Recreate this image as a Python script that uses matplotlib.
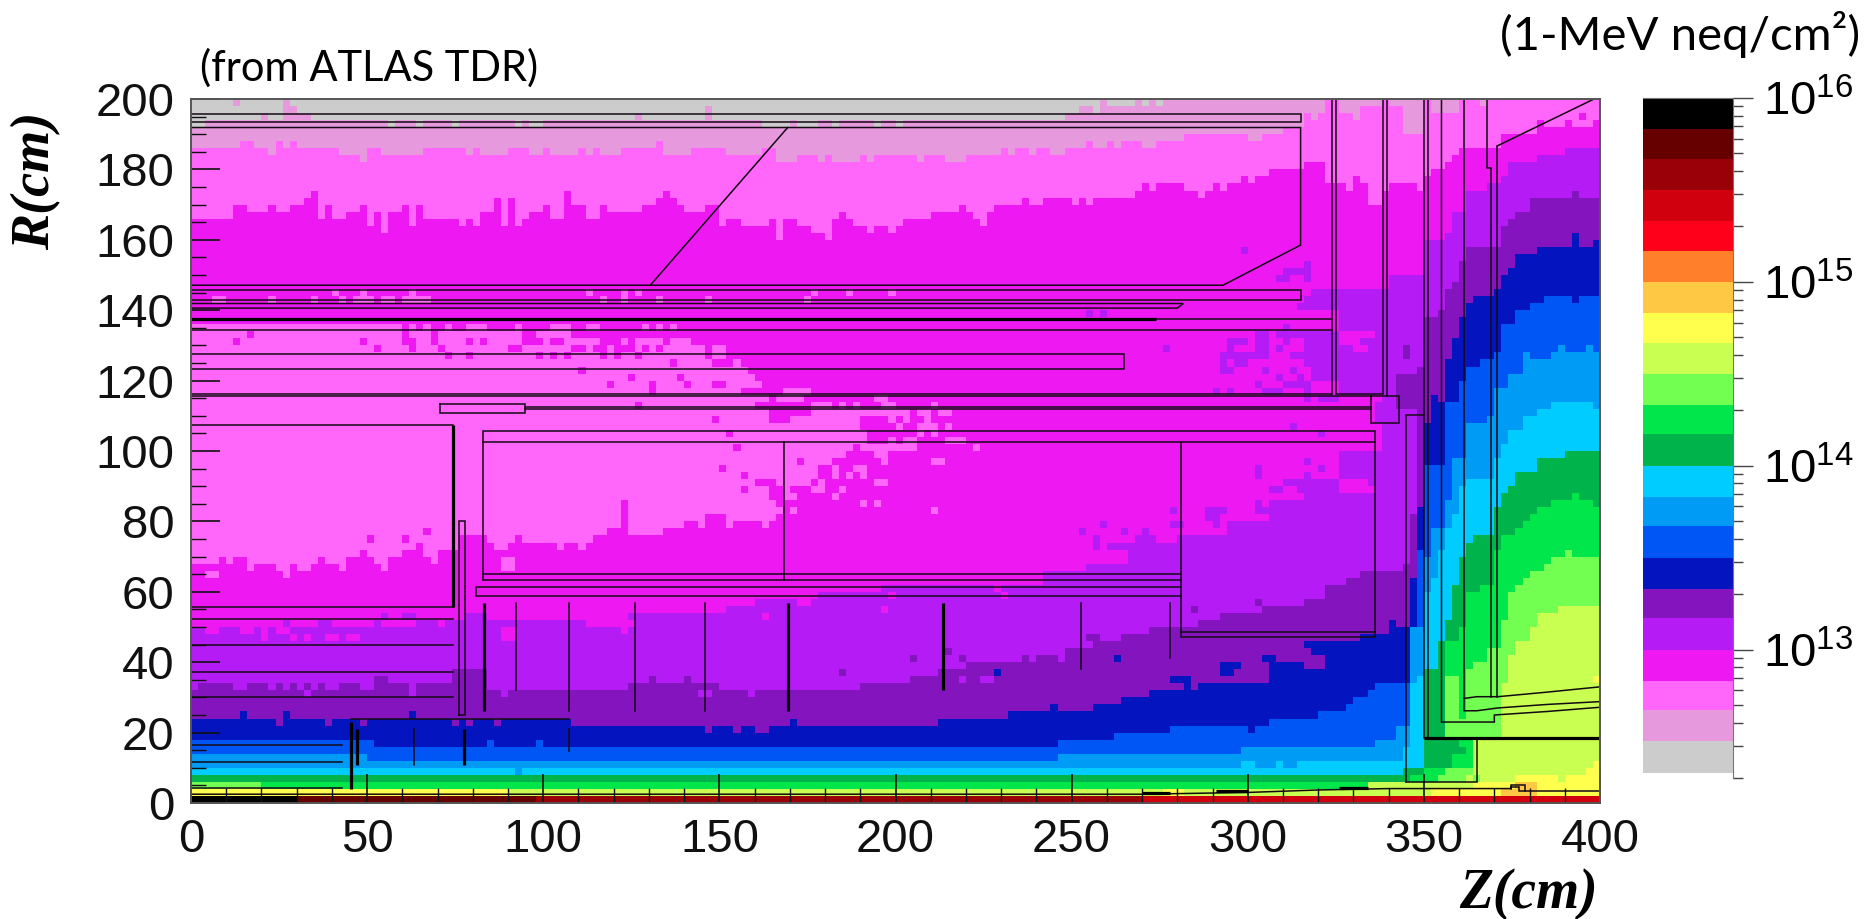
import numpy as np
import matplotlib
matplotlib.use('Agg')
import matplotlib.pyplot as plt
from matplotlib.colors import ListedColormap

plt.rcParams['mathtext.fontset'] = 'custom'
plt.rcParams['mathtext.rm'] = 'Liberation Sans'

# colour of each flux band, lowest first
band_colors = ['#CCCCCC', '#E799DD', '#FF66F9', '#EE19F2', '#B51BF5', '#8415BE', '#0414BE', '#0055F5',
               '#009BF5', '#00CCFF', '#00B34A', '#00E64B', '#73FF52', '#C8FF50', '#FFFF4D', '#FFC844',
               '#FF7F2B', '#FF001A', '#D1000F', '#990008', '#660000', '#000000']
band_exponents = [12.33, 12.5, 12.67, 12.83, 13.0, 13.17, 13.33, 13.5, 13.67, 13.83, 14.0, 14.17,
                  14.33, 14.5, 14.67, 14.83, 15.0, 15.17, 15.33, 15.5, 15.67, 15.83, 16.0]
cbar_major = [1e13, 1e14, 1e15, 1e16]
cbar_labels = ['$10^{13}$', '$10^{14}$', '$10^{15}$', '$10^{16}$']
z_ticks = [0, 50, 100, 150, 200, 250, 300, 350, 400]
r_ticks = [0, 20, 40, 60, 80, 100, 120, 140, 160, 180, 200]

# top of each band read column by column: (z from which it holds, R)
top_lightpink = [(0, 194), (248, 196), (252, 198), (256, 196), (258, 198), (268, 200)]
top_pink = [(0, 186), (14, 188), (18, 186), (22, 184), (24, 188), (26, 186), (28, 188), (30, 186), (42, 184), (48, 182),
            (50, 186), (54, 184), (66, 186), (78, 184), (80, 186), (82, 184), (90, 186), (96, 184), (100, 186), (102, 184),
            (110, 186), (112, 184), (114, 186), (116, 184), (122, 186), (132, 188), (134, 184), (142, 186), (152, 184),
            (162, 186), (166, 182), (172, 184), (178, 182), (180, 184), (182, 182), (190, 184), (192, 182), (194, 184),
            (206, 182), (208, 184), (214, 182), (220, 184), (230, 186), (232, 184), (234, 186), (238, 184), (240, 186),
            (244, 184), (248, 186), (254, 188), (256, 186), (260, 188), (262, 186), (264, 188), (270, 186), (274, 188),
            (282, 190), (300, 188), (304, 190), (310, 192), (316, 196), (318, 194), (320, 196), (322, 200), (326, 196),
            (330, 194), (332, 198), (338, 200), (340, 198), (344, 190), (350, 200), (352, 196), (360, 200)]
top_magenta = [(0, 166), (12, 170), (16, 168), (22, 170), (24, 168), (28, 170), (32, 172), (34, 174), (36, 166), (38, 170),
               (40, 166), (44, 168), (48, 170), (50, 164), (52, 168), (54, 162), (56, 168), (60, 170), (62, 164), (64, 170),
               (66, 166), (76, 164), (78, 166), (80, 164), (82, 168), (86, 172), (88, 164), (90, 172), (92, 164), (94, 166),
               (96, 168), (100, 170), (102, 166), (106, 174), (108, 170), (112, 166), (116, 170), (118, 168), (128, 170),
               (132, 172), (134, 174), (136, 172), (138, 170), (140, 168), (146, 170), (150, 164), (152, 166), (156, 164),
               (164, 166), (166, 160), (168, 166), (172, 164), (176, 162), (180, 160), (182, 166), (184, 168), (186, 166),
               (188, 164), (192, 162), (194, 164), (198, 162), (200, 164), (202, 166), (210, 168), (218, 170), (220, 168),
               (222, 166), (224, 164), (226, 168), (228, 170), (236, 172), (238, 170), (242, 172), (250, 170), (252, 172),
               (254, 170), (256, 172), (268, 174), (270, 176), (272, 174), (274, 176), (282, 174), (286, 172), (288, 174),
               (290, 176), (292, 174), (294, 176), (298, 178), (300, 176), (302, 178), (306, 180), (315, 178), (316, 182),
               (322, 176), (328, 174), (330, 178), (332, 176), (334, 170), (338, 174), (340, 176), (348, 174), (350, 178),
               (352, 180), (355, 182), (358, 184), (360, 186), (371, 190), (381, 194), (384, 192), (390, 194), (392, 192),
               (394, 196), (396, 194)]
top_purple = [(0, 50), (64, 52), (78, 54), (84, 52), (112, 50), (124, 54), (152, 56), (160, 58), (177, 60), (196, 62), (242, 66),
              (254, 68), (266, 72), (268, 74), (280, 76), (294, 80), (306, 86), (316, 94), (325, 146), (339, 150), (350, 160),
              (355, 162), (358, 168), (362, 174), (368, 176), (372, 178), (374, 182), (382, 184), (390, 186)]
top_darkpurple = [(0, 34), (74, 38), (84, 32), (124, 34), (150, 32), (190, 34), (204, 36), (212, 38), (220, 40), (248, 44), (258, 46),
                  (264, 48), (272, 50), (286, 52), (292, 54), (304, 56), (316, 58), (322, 62), (328, 64), (332, 66), (343, 68),
                  (346, 82), (348, 124), (350, 138), (354, 140), (356, 146), (358, 148), (360, 154), (362, 158), (371, 164),
                  (374, 166), (376, 168), (380, 172), (392, 174), (394, 172)]
top_darkblue = [(0, 24), (108, 22), (212, 24), (232, 26), (244, 28), (246, 26), (256, 28), (264, 30), (272, 32), (286, 34), (306, 40),
                (316, 46), (332, 48), (344, 50), (346, 64), (348, 84), (350, 108), (352, 116), (354, 114), (356, 126), (358, 132),
                (360, 138), (362, 142), (364, 144), (370, 146), (372, 150), (374, 152), (376, 156), (382, 158), (392, 162),
                (394, 158), (398, 160)]
top_blue = [(0, 18), (52, 16), (246, 18), (262, 20), (277, 22), (306, 24), (316, 24), (320, 26), (328, 28), (330, 30), (334, 32), (336, 34),
            (346, 50), (348, 72), (350, 96), (356, 114), (360, 120), (362, 124), (366, 126), (370, 128), (372, 136), (376, 140),
            (380, 142), (384, 144), (392, 142), (394, 144)]
top_lightblue = [(0, 14), (50, 12), (246, 14), (298, 16), (336, 18), (342, 22), (346, 50), (350, 70), (352, 78), (356, 86), (358, 98),
                 (362, 108), (368, 110), (370, 118), (374, 122), (378, 128), (380, 126), (386, 128), (388, 130), (390, 128),
                 (396, 130), (398, 128)]
top_cyan = [(0, 10), (298, 12), (302, 10), (308, 12), (310, 10), (314, 12), (344, 16), (345, 34), (348, 36), (350, 60), (352, 64),
            (354, 72), (356, 78), (358, 82), (360, 90), (362, 92), (370, 98), (372, 102), (374, 106), (378, 110), (382, 112),
            (386, 114), (398, 112)]
top_darkgreen = [(0, 8), (344, 10), (350, 38), (354, 46), (356, 52), (358, 62), (360, 70), (362, 74), (364, 76), (370, 84), (372, 88),
                 (374, 90), (376, 94), (381, 98), (390, 100)]
top_green = [(0, 6), (346, 8), (354, 12), (356, 46), (360, 50), (362, 60), (366, 62), (370, 72), (372, 76), (376, 78), (378, 80),
             (380, 82), (382, 84), (386, 86), (392, 88), (394, 86), (398, 84)]
top_lightgreen = [(0, 6), (20, 4), (334, 6), (354, 8), (356, 36), (360, 24), (362, 38), (364, 40), (368, 44), (371, 52), (374, 60),
                  (376, 62), (378, 64), (380, 66), (384, 68), (386, 70), (390, 72), (392, 70)]
top_yellowgreen = [(0, 4), (334, 6), (365, 18), (372, 34), (374, 42), (376, 46), (380, 50), (382, 54), (388, 56)]
top_yellow = [(0, 4), (90, 2), (352, 4), (364, 6), (376, 8), (388, 6), (390, 8), (396, 10), (398, 12)]
top_lightorange = [(0, 2), (372, 4), (376, 6), (382, 2)]
top_orange = [(0, 2)]
top_red = [(0, 2)]
top_red2 = [(0, 2)]
top_darkred = [(0, 2), (270, 0)]
top_darkred2 = [(0, 2), (98, 0)]
top_black = [(0, 2), (30, 0)]

# the light pink pocket between R 60 and 136 on the left side
lake_bottom = [(0, 68), (8, 70), (10, 68), (12, 70), (16, 66), (18, 68), (24, 66), (26, 64), (28, 68), (30, 66), (34, 68), (36, 70),
               (38, 68), (42, 66), (44, 70), (48, 72), (50, 70), (52, 68), (54, 66), (56, 70), (60, 72), (64, 74), (66, 68),
               (70, 72), (76, 76), (84, 74), (86, 72), (90, 74), (92, 76), (94, 74), (104, 72), (106, 74), (110, 72), (112, 74),
               (114, 76), (118, 78), (122, 86), (124, 76), (134, 78), (140, 80), (144, 78), (146, 82), (152, 78), (154, 80),
               (162, 78), (164, 200)]
lake_top = [(0, 136), (60, 134), (108, 132), (142, 130), (152, 126), (158, 122), (164, 0)]

# single cells and short runs off the main bands: (R, z from, z to)
gray_runs = [(192, 0, 4), (192, 56, 58), (192, 64, 66), (192, 74, 76), (192, 92, 94), (192, 96, 100), (192, 162, 170), (192, 172, 178),
             (192, 182, 184), (192, 194, 196), (192, 200, 202), (198, 270, 272), (198, 274, 276)]
lightpink_runs = [(198, 12, 14), (198, 26, 28), (196, 26, 30), (194, 26, 34), (194, 20, 22), (194, 126, 128), (194, 146, 148),
                  (196, 146, 148), (198, 258, 260), (198, 366, 368), (192, 4, 56), (192, 58, 64), (192, 66, 74), (192, 76, 92),
                  (192, 94, 96), (192, 100, 162), (192, 170, 172)]
pink_runs = [(144, 40, 42), (144, 48, 50), (144, 62, 64), (144, 112, 114), (144, 122, 124), (144, 126, 128), (142, 6, 10), (142, 22, 24),
             (142, 34, 36), (142, 42, 44), (142, 46, 52), (142, 54, 58), (142, 60, 68), (142, 116, 118), (142, 122, 124),
             (142, 132, 134), (142, 146, 148), (144, 176, 178), (144, 186, 188), (144, 198, 200), (142, 174, 176),
             (134, 62, 64), (134, 66, 68), (134, 72, 74), (134, 78, 84), (134, 92, 94), (134, 102, 108), (134, 112, 116), (134, 128, 130),
             (134, 132, 134), (134, 136, 138),
             (116, 168, 176), (114, 166, 174), (114, 194, 198), (112, 176, 182), (112, 184, 186), (112, 188, 190), (112, 196, 200),
             (112, 210, 212), (110, 176, 204), (110, 206, 210), (110, 212, 216), (108, 170, 190), (108, 198, 200), (108, 202, 204),
             (108, 208, 210), (106, 164, 190), (106, 200, 202), (106, 206, 212), (106, 214, 216), (104, 164, 192), (104, 206, 208),
             (104, 210, 212), (102, 164, 192), (102, 198, 200), (102, 202, 206), (102, 214, 220), (100, 164, 188), (100, 190, 206),
             (100, 222, 224), (98, 164, 186), (98, 194, 198), (96, 164, 172), (96, 174, 182), (96, 196, 198), (96, 210, 214),
             (94, 164, 178), (94, 182, 184), (94, 188, 192), (92, 164, 178), (92, 182, 184), (92, 186, 188), (92, 190, 192),
             (90, 166, 176), (90, 178, 180), (90, 194, 198), (88, 168, 170), (88, 176, 180), (88, 184, 186), (86, 168, 172),
             (86, 182, 184), (84, 164, 166), (84, 190, 192), (84, 194, 196), (82, 164, 168), (82, 170, 172), (82, 210, 212),
             (80, 164, 166), (64, 4, 8), (66, 88, 92), (68, 88, 92),
             (194, 376, 378), (192, 392, 398)]
magenta_runs = [(132, 16, 18), (132, 60, 62), (132, 68, 70), (132, 94, 98), (132, 108, 134), (132, 142, 148), (132, 150, 156), (132, 158, 162),
                (130, 12, 14), (130, 48, 50), (130, 60, 64), (130, 68, 70), (130, 78, 80), (130, 82, 84), (130, 94, 100), (130, 102, 106),
                (130, 116, 122), (130, 124, 126), (130, 134, 136), (130, 144, 148), (130, 150, 158), (128, 52, 54), (128, 62, 64),
                (128, 70, 72), (128, 90, 94), (128, 108, 112), (128, 114, 118), (128, 120, 126), (128, 128, 130), (128, 132, 134),
                (128, 146, 148), (128, 152, 156), (126, 72, 74), (126, 78, 80), (126, 98, 100), (126, 102, 104), (126, 106, 108),
                (126, 116, 118), (126, 120, 122), (126, 126, 128), (126, 146, 148), (126, 156, 158), (124, 136, 138), (124, 148, 154),
                (124, 156, 160), (122, 110, 112), (122, 160, 162), (120, 124, 126), (120, 138, 140), (120, 160, 164), (118, 118, 120),
                (118, 130, 132), (118, 140, 142), (118, 148, 152), (118, 162, 164), (116, 130, 132), (116, 156, 164), (112, 126, 128),
                (112, 160, 164), (108, 148, 150), (104, 152, 154), (100, 154, 156), (94, 150, 152), (92, 156, 158), (90, 160, 164),
                (88, 156, 158), (74, 50, 52), (74, 60, 62), (76, 66, 68), (68, 36, 38), (68, 66, 68),
                (52, 88, 92), (50, 70, 72), (48, 4, 8), (48, 14, 18), (48, 20, 22), (48, 24, 28), (46, 20, 22), (46, 28, 30), (46, 32, 34),
                (46, 38, 42), (46, 44, 48), (48, 88, 92), (46, 88, 92), (50, 124, 126), (48, 122, 124), (52, 162, 164), (58, 198, 200),
                (56, 172, 176), (54, 196, 198), (54, 142, 150), (56, 150, 156), (62, 196, 200), (60, 228, 230), (58, 230, 232),
                (100, 325, 338), (102, 325, 338), (104, 325, 338), (106, 325, 338), (108, 325, 336), (110, 325, 336), (112, 325, 336),
                (114, 325, 338), (130, 326, 332), (132, 326, 336), (128, 330, 334), (88, 326, 336), (92, 318, 326), (90, 326, 334)]
purple_runs = [(52, 54, 56), (52, 60, 64), (50, 26, 28), (50, 36, 40), (50, 52, 54), (48, 2, 4), (48, 8, 10), (48, 12, 14), (48, 18, 20),
               (48, 22, 24), (48, 28, 30), (48, 36, 38),
               (156, 298, 300), (152, 316, 318), (150, 310, 318), (148, 308, 312), (148, 316, 318), (144, 318, 325), (142, 316, 325),
               (140, 314, 325), (138, 254, 256), (138, 258, 260), (134, 310, 312), (132, 302, 306), (132, 308, 325), (130, 294, 300),
               (130, 302, 306), (130, 310, 312), (130, 316, 325), (128, 276, 278), (128, 294, 296), (128, 302, 306), (128, 308, 310),
               (128, 316, 325), (126, 292, 306), (126, 312, 325), (124, 292, 294), (124, 296, 300), (124, 316, 325), (122, 292, 296),
               (122, 304, 306), (122, 312, 314), (122, 318, 325), (120, 308, 310), (120, 314, 316), (120, 318, 325), (118, 302, 304),
               (118, 310, 318), (116, 290, 292), (116, 294, 296), (116, 304, 306), (116, 306, 310), (116, 316, 318), (114, 316, 318),
               (114, 320, 325), (106, 312, 314), (104, 320, 322), (96, 316, 318), (94, 302, 304), (94, 320, 322), (92, 302, 304),
               (92, 316, 318), (90, 310, 318), (90, 320, 322), (88, 306, 310), (88, 314, 320), (84, 302, 304), (84, 306, 308), (82, 288, 294),
               (82, 302, 308), (80, 288, 292), (82, 278, 280), (78, 258, 260), (78, 278, 282), (78, 290, 292), (78, 294, 300),
               (76, 252, 254), (76, 264, 266), (76, 270, 272), (74, 256, 258), (74, 268, 274), (72, 256, 258), (72, 260, 268),
               (72, 270, 278), (80, 324, 325),
               (30, 144, 148), (30, 158, 160), (34, 218, 220), (34, 224, 228), (30, 88, 90), (30, 32, 34), (30, 62, 64),
               (32, 0, 2), (32, 12, 16), (32, 22, 24), (32, 26, 28), (32, 30, 32), (32, 34, 36), (32, 38, 42), (32, 48, 52), (32, 62, 64),
               (100, 340, 343), (102, 340, 343), (108, 340, 343), (110, 338, 343), (112, 338, 343), (114, 338, 343)]
darkpurple_runs = [(40, 204, 206), (36, 184, 186), (42, 214, 216), (40, 218, 220), (40, 236, 238), (40, 240, 246), (42, 248, 250), (46, 254, 258),
                   (44, 256, 264), (42, 258, 262), (46, 264, 272), (48, 272, 280), (54, 284, 286), (56, 302, 304), (34, 130, 132),
                   (34, 140, 142), (34, 52, 56), (22, 24, 26), (22, 38, 40), (22, 48, 50), (22, 74, 76), (22, 78, 80), (22, 86, 88),
                   (20, 146, 148), (20, 154, 156), (20, 160, 164), (112, 342, 348), (114, 342, 348), (116, 342, 348), (118, 342, 348),
                   (120, 342, 348), (126, 344, 346), (128, 344, 346), (42, 315, 318), (40, 315, 322), (38, 316, 322)]
darkblue_runs = [(24, 14, 16), (24, 26, 28), (24, 62, 64), (22, 170, 172), (40, 262, 264), (50, 340, 342), (48, 340, 344), (20, 300, 302),
                 (36, 228, 230), (32, 282, 284), (34, 278, 284), (36, 292, 296), (38, 292, 298), (40, 304, 308)]
blue_runs = [(16, 84, 86), (16, 98, 100)]
lightblue_runs = [(8, 92, 94)]
darkgreen_runs = [(16, 352, 360), (14, 354, 362), (12, 352, 358), (10, 350, 358), (8, 344, 350)]
green_runs = [(16, 360, 364), (14, 362, 365), (12, 358, 365), (10, 358, 365), (8, 350, 354), (6, 346, 352)]
lightgreen_runs = [(6, 354, 362), (8, 362, 364)]
yellowgreen_runs = [(16, 364, 372), (14, 365, 372), (12, 365, 372), (10, 365, 372), (8, 364, 376), (6, 362, 364)]
yellow_runs = [(34, 398, 400), (2, 276, 282)]

# detector outlines, (z, R) points along each line
outlines_thin = [
    [(0, 195.7), (315, 195.7), (315, 193.5), (0, 193.5)],
    [(0, 191.9), (315, 191.9), (315, 158.5), (293, 147.1), (0, 147.1)],
    [(130.4, 147.1), (169.4, 191.9)],
    [(0, 145.8), (315, 145.8), (315, 142.9), (0, 142.9)],
    [(0, 141.9), (281.7, 141.9), (280, 140.6), (0, 140.6)],
    [(274, 137.4), (323.6, 137.4)],
    [(0, 134.3), (324, 134.3)],
    [(324, 200), (324, 116.2)],
    [(325, 200), (325, 116.2), (338.5, 116.2), (338.5, 200)],
    [(339.6, 200), (339.6, 115.5)],
    [(0, 116.2), (324, 116.2)],
    [(0, 115.5), (343, 115.5), (343, 108), (335, 108), (335, 115.5)],
    [(94.7, 112.6), (335, 112.6)],
    [(94.7, 111.9), (335, 111.9)],
    [(70.8, 113.4), (94.7, 113.4), (94.7, 110.9), (70.8, 110.9), (70.8, 113.4)],
    [(0, 127.5), (265, 127.5), (265, 123.4), (0, 123.4)],
    [(0, 107.4), (74.3, 107.4)],
    [(0, 55.8), (74.3, 55.8)],
    [(82.8, 63.4), (82.8, 105.8), (336, 105.8), (336, 47.3), (281, 47.3), (281, 102.6)],
    [(82.8, 102.6), (336, 102.6)],
    [(281, 48.7), (336, 48.7)],
    [(168.4, 102.6), (168.4, 63.4)],
    [(82.8, 65), (281, 65)],
    [(82.8, 63.4), (281, 63.4)],
    [(281, 61.3), (80.8, 61.3), (80.8, 58.9), (281, 58.9)],
    [(76, 25), (76, 80.2), (77.7, 80.2), (77.7, 25), (76, 25)],
    [(0, 52.2), (74.5, 52.2)],
    [(0, 45), (74.5, 45)],
    [(0, 37.3), (74.5, 37.3)],
    [(0, 30.1), (74.5, 30.1)],
    [(0, 16.5), (43, 16.5)],
    [(0, 11.7), (43, 11.7)],
    [(0, 4.2), (43, 4.2)],
    [(45.4, 23.8), (107.4, 23.8)],
    [(63.2, 21), (63.2, 10.8)],
    [(107.2, 21), (107.2, 14.8)],
    [(92.3, 56.7), (92.3, 32)],
    [(107.2, 56.7), (107.2, 26)],
    [(126, 56.7), (126, 26)],
    [(146, 56.7), (146, 26)],
    [(252.8, 56.7), (252.8, 38)],
    [(277.8, 56.7), (277.8, 41.1)],
    [(350, 200), (350, 18.4)],
    [(351.3, 200), (351.3, 18.4)],
    [(355, 200), (355, 23), (370, 23), (370, 25), (385, 26), (400, 27.2)],
    [(361.4, 200), (361.4, 26.2), (365, 26.2), (371, 27), (385, 28), (400, 28.8)],
    [(361.4, 29.7), (365, 30.2), (371, 30.2), (385, 31.5), (400, 33)],
    [(368, 200), (368, 180.3), (369, 180.3), (369, 30.2)],
    [(370.9, 186.7), (370.9, 30.2)],
    [(370.9, 186.7), (398.3, 200)],
    [(345, 6), (345, 110.3), (350, 110.3)],
    [(345, 6), (365, 6), (365, 18.4)],
    [(374.8, 4.1), (374.8, 5.1), (378.8, 5.1), (378.8, 3.3), (377, 3.3), (377, 4.6), (374.8, 4.6)],
    [(0, 2.5), (270, 2.5), (300, 3), (320, 3.7), (340, 4.1), (374.8, 4.1)],
    [(378.8, 3.3), (400, 3.3)],
]
outlines_thick = [
    [(0, 137.4), (274, 137.4)],
    [(74.3, 107.4), (74.3, 55.8)],
    [(45.4, 23), (45.4, 3.9)],
    [(47, 21), (47, 10.8)],
    [(77.4, 21), (77.4, 10.8)],
    [(83.3, 56.7), (83.3, 26)],
    [(169.4, 56.7), (169.4, 26)],
    [(213.5, 56.7), (213.5, 32)],
    [(350, 18.4), (400, 18.4)],
    [(270, 2.9), (278, 2.9)],
    [(291, 3.3), (300, 3.3)],
    [(326, 4.4), (334, 4.4)],
]


def step_top(steps, z):
    top = 0
    for z0, r in steps:
        if z >= z0:
            top = r
    return top


z_edges = np.arange(0, 402, 2)
r_edges = np.arange(0, 202, 2)
band_tops = [top_lightpink, top_pink, top_magenta, top_purple, top_darkpurple, top_darkblue, top_blue, top_lightblue, top_cyan,
             top_darkgreen, top_green, top_lightgreen, top_yellowgreen, top_yellow, top_lightorange, top_orange, top_red,
             top_red2, top_darkred, top_darkred2, top_black]

grid = np.zeros((len(r_edges) - 1, len(z_edges) - 1), dtype=int)
for i, z in enumerate(z_edges[:-1]):
    for level, steps in enumerate(band_tops, start=1):
        grid[r_edges[:-1] < step_top(steps, z), i] = level
    low = step_top(lake_bottom, z)
    high = step_top(lake_top, z)
    grid[(r_edges[:-1] >= low) & (r_edges[:-1] < high), i] = 2


def paint(runs, level):
    for r, z0, z1 in runs:
        grid[int(r) // 2, int(z0) // 2:int(np.ceil(z1 / 2))] = level


paint(gray_runs, 0)
paint(lightpink_runs, 1)
paint(pink_runs, 2)
paint(magenta_runs, 3)
paint(purple_runs, 4)
paint(darkpurple_runs, 5)
paint(darkblue_runs, 6)
paint(blue_runs, 7)
paint(lightblue_runs, 8)
paint(darkgreen_runs, 10)
paint(green_runs, 11)
paint(lightgreen_runs, 12)
paint(yellowgreen_runs, 13)
paint(yellow_runs, 14)

cmap = ListedColormap(band_colors)

fig = plt.figure(figsize=(18.7, 9.19), dpi=100)
ax = fig.add_axes([191 / 1870, 1 - 803 / 919, 1409 / 1870, 704 / 919])
ax.pcolormesh(z_edges, r_edges, grid, cmap=cmap, vmin=-0.5, vmax=21.5, antialiased=False)

for line in outlines_thin:
    ax.plot([p[0] for p in line], [p[1] for p in line], color='#140a14', lw=1.1, solid_joinstyle='miter')
for line in outlines_thick:
    ax.plot([p[0] for p in line], [p[1] for p in line], color='black', lw=2.3, solid_capstyle='butt')

ax.set_xlim(0, 400)
ax.set_ylim(0, 200)
ax.set_xticks(z_ticks)
ax.set_yticks(r_ticks)
ax.set_xticks(np.arange(0, 401, 10), minor=True)
ax.set_yticks(np.arange(0, 201, 5), minor=True)
ax.tick_params(which='major', direction='in', length=21, width=1.2, color='#111111', labelsize=34, labelcolor='#111111')
ax.tick_params(which='minor', direction='in', length=11, width=1.0, color='#111111')
ax.tick_params(axis='y', which='major', pad=12)
ax.tick_params(axis='x', which='major', pad=11)
for label in ax.get_xticklabels() + ax.get_yticklabels():
    label.set_fontfamily('Liberation Sans')
for spine in ax.spines.values():
    spine.set_color('#555555')
    spine.set_linewidth(1.4)

# colour scale
cax = fig.add_axes([1643 / 1870, 1 - 778 / 919, 90 / 1870, 680 / 919])
cax.pcolormesh([0, 1], [10 ** e for e in band_exponents], np.arange(22).reshape(-1, 1),
               cmap=cmap, vmin=-0.5, vmax=21.5, antialiased=False)
cax.set_yscale('log')
cax.set_ylim(2e12, 1e16)
cax.set_xlim(0, 1)
cax.set_xticks([])
cax.yaxis.tick_right()
cax.set_yticks(cbar_major)
cax.set_yticklabels(cbar_labels)
cax.tick_params(which='major', direction='out', length=14.5, width=1.0, color='#444444', labelsize=34, pad=7)
cax.tick_params(which='minor', direction='out', length=7.5, width=1.0, color='#444444', labelright=False)
cax.yaxis.set_minor_locator(matplotlib.ticker.LogLocator(base=10, subs=range(2, 10), numticks=10))
cax.yaxis.set_minor_formatter(matplotlib.ticker.NullFormatter())
for side in ['left', 'bottom']:
    cax.spines[side].set_visible(False)
for side in ['right', 'top']:
    cax.spines[side].set_color('#777777')
    cax.spines[side].set_linewidth(0.8)

fig.text(200 / 1870, 1 - 68 / 919, '(from ATLAS TDR)', fontsize=30, family='Lato', va='center', ha='left', color='black')
fig.text(1860 / 1870, 1 - 34 / 919, '(1-MeV neq/cm\u00b2)', fontsize=34, family='Lato', va='center', ha='right', color='black')
fig.text(36 / 1870, 1 - 181 / 919, 'R(cm)', fontsize=39, family='Liberation Serif', style='italic', weight='bold',
         rotation=90, va='center', ha='center')
fig.text(1598 / 1870, 1 - 894 / 919, 'Z(cm)', fontsize=40, family='Liberation Serif', style='italic', weight='bold',
         va='center', ha='right')

fig.savefig('out.png', dpi=100)
